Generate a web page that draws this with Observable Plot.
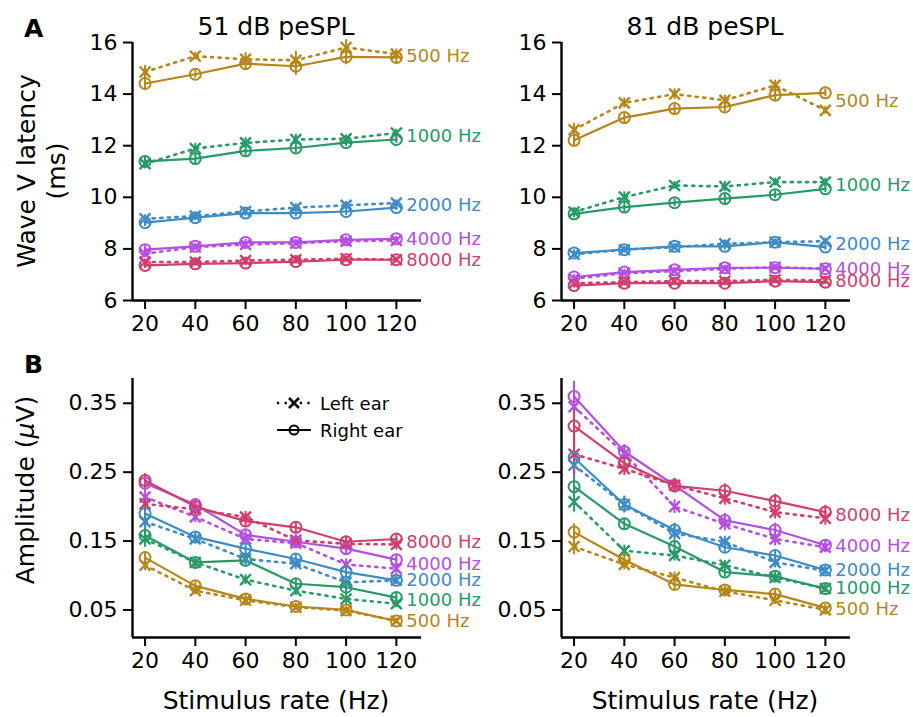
<!DOCTYPE html>
<html>
<head>
<meta charset="utf-8">
<script src="https://cdn.jsdelivr.net/npm/d3@7"></script>
<script src="https://cdn.jsdelivr.net/npm/@observablehq/plot@0.6"></script>
<style>
  html, body { margin: 0; padding: 0; background: #fff; }
  #fig { position: relative; width: 913px; height: 717px; font-family: "DejaVu Sans", sans-serif; overflow: hidden; }
  .panel { position: absolute; }
  .panel svg { overflow: visible; }
  #overlay { position: absolute; left: 0; top: 0; pointer-events: none; }
</style>
</head>
<body>
<div id="fig"></div>
<script>
// ---------------- data ----------------
const rates = [20, 40, 60, 80, 100, 120];
const freqs = ["500 Hz", "1000 Hz", "2000 Hz", "4000 Hz", "8000 Hz"];
const colors = ["#b5871a", "#279a67", "#3f8cc4", "#b44fe0", "#d03f6b"];

const latTicks = [6, 8, 10, 12, 14, 16];
const ampTicks = [0.05, 0.15, 0.25, 0.35];

// Wave V latency (ms), 51 dB peSPL — rows follow freqs, columns follow rates
const lat51Right = [
  [14.41, 14.77, 15.18, 15.08, 15.44, 15.42],
  [11.39, 11.50, 11.80, 11.91, 12.12, 12.24],
  [9.02, 9.21, 9.39, 9.39, 9.45, 9.60],
  [7.97, 8.10, 8.25, 8.25, 8.35, 8.39],
  [7.36, 7.42, 7.45, 7.51, 7.58, 7.58]
];
const lat51Left = [
  [14.86, 15.47, 15.35, 15.31, 15.81, 15.55],
  [11.30, 11.89, 12.11, 12.24, 12.27, 12.49],
  [9.17, 9.27, 9.45, 9.60, 9.69, 9.78],
  [7.81, 8.07, 8.17, 8.22, 8.30, 8.33],
  [7.49, 7.49, 7.55, 7.58, 7.62, 7.58]
];
const lat51Err = [
  [0.25, 0.15, 0.25, 0.35, 0.3, 0.2],
  [0.2, 0.2, 0.2, 0.2, 0.15, 0.15],
  [0.15, 0.12, 0.12, 0.15, 0.15, 0.12],
  [0.15, 0.12, 0.12, 0.12, 0.12, 0.1],
  [0.12, 0.1, 0.1, 0.1, 0.1, 0.1]
];

// Wave V latency (ms), 81 dB peSPL
const lat81Right = [
  [12.21, 13.09, 13.44, 13.50, 13.96, 14.05],
  [9.36, 9.62, 9.79, 9.95, 10.10, 10.33],
  [7.84, 7.97, 8.10, 8.10, 8.26, 8.07],
  [6.91, 7.10, 7.19, 7.27, 7.27, 7.23],
  [6.58, 6.67, 6.67, 6.67, 6.75, 6.71]
];
const lat81Left = [
  [12.62, 13.66, 14.00, 13.76, 14.34, 13.37],
  [9.43, 10.01, 10.46, 10.42, 10.59, 10.59],
  [7.79, 7.97, 8.07, 8.20, 8.26, 8.30],
  [6.84, 7.06, 7.14, 7.23, 7.29, 7.23],
  [6.67, 6.71, 6.75, 6.75, 6.80, 6.78]
];
const lat81Err = [
  [0.25, 0.2, 0.2, 0.2, 0.2, 0.15],
  [0.15, 0.2, 0.15, 0.2, 0.15, 0.15],
  [0.12, 0.12, 0.12, 0.15, 0.12, 0.12],
  [0.1, 0.1, 0.1, 0.1, 0.1, 0.1],
  [0.1, 0.1, 0.1, 0.1, 0.1, 0.1]
];

// Wave V amplitude (µV), 51 dB peSPL
const amp51Right = [
  [0.126, 0.085, 0.066, 0.055, 0.050, 0.034],
  [0.158, 0.119, 0.122, 0.088, 0.083, 0.068],
  [0.190, 0.156, 0.139, 0.124, 0.105, 0.093],
  [0.234, 0.203, 0.159, 0.149, 0.139, 0.123],
  [0.238, 0.200, 0.179, 0.170, 0.149, 0.153]
];
const amp51Left = [
  [0.115, 0.078, 0.064, 0.054, 0.049, 0.034],
  [0.153, 0.119, 0.094, 0.078, 0.066, 0.059],
  [0.178, 0.153, 0.124, 0.117, 0.090, 0.093],
  [0.214, 0.185, 0.153, 0.147, 0.116, 0.110],
  [0.204, 0.196, 0.185, 0.151, 0.146, 0.145]
];
const amp51Err = [
  [0.008, 0.006, 0.006, 0.005, 0.005, 0.004],
  [0.012, 0.007, 0.007, 0.007, 0.008, 0.006],
  [0.01, 0.007, 0.008, 0.008, 0.008, 0.006],
  [0.01, 0.008, 0.008, 0.008, 0.008, 0.008],
  [0.01, 0.008, 0.008, 0.008, 0.008, 0.008]
];

// Wave V amplitude (µV), 81 dB peSPL
const amp81Right = [
  [0.163, 0.123, 0.087, 0.079, 0.073, 0.053],
  [0.229, 0.175, 0.142, 0.105, 0.099, 0.081],
  [0.271, 0.203, 0.166, 0.141, 0.129, 0.108],
  [0.360, 0.280, 0.231, 0.180, 0.166, 0.144],
  [0.317, 0.263, 0.230, 0.223, 0.208, 0.192]
];
const amp81Left = [
  [0.142, 0.116, 0.097, 0.077, 0.064, 0.050],
  [0.207, 0.136, 0.129, 0.115, 0.097, 0.081],
  [0.260, 0.203, 0.161, 0.149, 0.119, 0.107],
  [0.345, 0.277, 0.200, 0.175, 0.153, 0.141],
  [0.276, 0.255, 0.231, 0.212, 0.192, 0.183]
];
const amp81Err = [
  [0.012, 0.008, 0.008, 0.006, 0.006, 0.005],
  [0.015, 0.008, 0.008, 0.007, 0.006, 0.006],
  [0.03, 0.012, 0.01, 0.008, 0.008, 0.006],
  [0.022, 0.01, 0.01, 0.01, 0.01, 0.008],
  [0.03, 0.01, 0.01, 0.01, 0.01, 0.01]
];

// ---------------- drawing ----------------
const FONT = "DejaVu Sans";
const DOTS = "2.2,5.4";

function buildRows(right, left, err) {
  const rows = [];
  freqs.forEach((f, i) => rates.forEach((r, j) => {
    rows.push({freq: f, ear: "Right", rate: r, value: right[i][j], err: err[i][j]});
    rows.push({freq: f, ear: "Left", rate: r, value: left[i][j], err: err[i][j]});
  }));
  return rows;
}

function panel({right, left, err, yDomain, yTicks, yFormat, width, height, mL, mR, mT, mB}) {
  const rows = buildRows(right, left, err);
  const R = rows.filter(d => d.ear === "Right");
  const L = rows.filter(d => d.ear === "Left");
  const last = rates.length - 1;
  const labels = freqs.map((f, i) => ({freq: f, rate: rates[last], value: (right[i][last] + left[i][last]) / 2}));
  const xDomain = [15, 130];
  return Plot.plot({
    width, height,
    marginLeft: mL, marginRight: mR, marginTop: mT, marginBottom: mB,
    x: {domain: xDomain},
    y: {domain: yDomain},
    color: {domain: freqs, range: colors},
    style: {fontFamily: FONT, fontSize: "22px", background: "transparent", color: "#000", overflow: "visible"},
    marks: [
      Plot.axisX({ticks: rates, tickSize: 9, tickPadding: 6, strokeWidth: 2, fontSize: 22, label: null}),
      Plot.axisY({ticks: yTicks, tickFormat: yFormat, tickSize: 9, tickPadding: 6, strokeWidth: 2, fontSize: 22, label: null}),
      Plot.ruleX([xDomain[0]], {stroke: "#000", strokeWidth: 2.4}),
      Plot.ruleY([yDomain[0]], {stroke: "#000", strokeWidth: 2.4}),
      Plot.ruleX(rows, {x: "rate", y1: d => d.value - d.err, y2: d => d.value + d.err, stroke: "freq", strokeWidth: 2}),
      Plot.line(L, {x: "rate", y: "value", z: "freq", stroke: "freq", strokeWidth: 2.6, strokeDasharray: DOTS}),
      Plot.line(R, {x: "rate", y: "value", z: "freq", stroke: "freq", strokeWidth: 2.2}),
      Plot.dot(L, {x: "rate", y: "value", stroke: "freq", symbol: "times", r: 5, strokeWidth: 2.4}),
      Plot.dot(R, {x: "rate", y: "value", stroke: "freq", symbol: "circle", r: 5.5, fill: "none", strokeWidth: 2}),
      Plot.text(labels, {x: "rate", y: "value", text: "freq", fill: "freq", dx: 10, textAnchor: "start", fontSize: 18, fontFamily: FONT})
    ]
  });
}

const fig = document.getElementById("fig");
function place(node, left, top) {
  const d = document.createElement("div");
  d.className = "panel";
  d.style.left = left + "px";
  d.style.top = top + "px";
  d.appendChild(node);
  fig.appendChild(d);
}

const f2 = d3.format(".2f");
// Panel A
place(panel({right: lat51Right, left: lat51Left, err: lat51Err, yDomain: [6, 16], yTicks: latTicks, yFormat: d3.format("d"),
  width: 490, height: 345, mL: 132, mR: 69, mT: 42, mB: 45}), 0, 0);
place(panel({right: lat81Right, left: lat81Left, err: lat81Err, yDomain: [6, 16], yTicks: latTicks, yFormat: d3.format("d"),
  width: 423, height: 345, mL: 71, mR: 63, mT: 42, mB: 45}), 490, 0);
// Panel B
place(panel({right: amp51Right, left: amp51Left, err: amp51Err, yDomain: [0.01, 0.386], yTicks: ampTicks, yFormat: f2,
  width: 490, height: 330, mL: 132, mR: 69, mT: 28, mB: 43}), 0, 350);
place(panel({right: amp81Right, left: amp81Left, err: amp81Err, yDomain: [0.01, 0.386], yTicks: ampTicks, yFormat: f2,
  width: 423, height: 330, mL: 71, mR: 63, mT: 28, mB: 43}), 490, 350);

// ---------------- text overlay ----------------
const ov = d3.select(fig).append("svg").attr("id", "overlay")
  .attr("width", 913).attr("height", 717)
  .style("font-family", FONT);

function txt(s, x, y, opts = {}) {
  const t = ov.append("text").attr("x", x).attr("y", y).text(s)
    .attr("font-size", opts.size || 25)
    .attr("text-anchor", opts.anchor || "middle")
    .attr("fill", "#000");
  if (opts.bold) t.attr("font-weight", "bold");
  if (opts.rotate) t.attr("transform", `rotate(-90 ${x} ${y})`);
  if (opts.baseline) t.attr("dominant-baseline", opts.baseline);
  return t;
}

txt("A", 24, 37, {anchor: "start", bold: true});
txt("B", 24, 373, {anchor: "start", bold: true});
txt("51 dB peSPL", 276, 35);
txt("81 dB peSPL", 705, 35);
txt("Stimulus rate (Hz)", 276, 709);
txt("Stimulus rate (Hz)", 705, 709);
txt("Wave V latency", 35, 171, {rotate: true});
txt("(ms)", 65, 171, {rotate: true});
const amp = ov.append("text").attr("x", 34).attr("y", 490).attr("font-size", 25)
  .attr("text-anchor", "middle").attr("transform", "rotate(-90 34 490)");
amp.append("tspan").text("Amplitude (");
amp.append("tspan").attr("font-style", "italic").text("μ");
amp.append("tspan").text("V)");

// legend
const lg = ov.append("g");
lg.append("line").attr("x1", 277).attr("x2", 311).attr("y1", 403).attr("y2", 403)
  .attr("stroke", "#000").attr("stroke-width", 2.4).attr("stroke-dasharray", DOTS);
lg.append("path").attr("d", "M289,398L299,408M299,398L289,408").attr("stroke", "#000").attr("stroke-width", 2.6);
txt("Left ear", 320, 403, {size: 18, anchor: "start", baseline: "central"});
lg.append("line").attr("x1", 277).attr("x2", 311).attr("y1", 430).attr("y2", 430)
  .attr("stroke", "#000").attr("stroke-width", 2.2);
lg.append("circle").attr("cx", 294).attr("cy", 430).attr("r", 4.5).attr("fill", "none").attr("stroke", "#000").attr("stroke-width", 2);
txt("Right ear", 320, 430, {size: 18, anchor: "start", baseline: "central"});
</script>
</body>
</html>
